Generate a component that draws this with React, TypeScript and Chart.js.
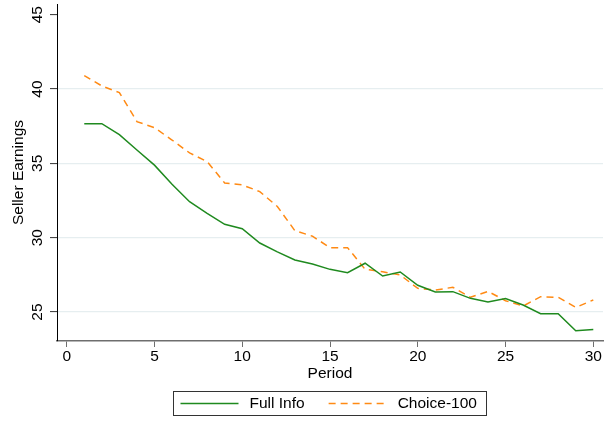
import React, { useEffect, useRef } from "react";
import { Chart, registerables } from "chart.js";

Chart.register(...registerables);

// ---- data ----
const periods = [1, 2, 3, 4, 5, 6, 7, 8, 9, 10, 11, 12, 13, 14, 15, 16, 17, 18, 19, 20, 21, 22, 23, 24, 25, 26, 27, 28, 29, 30];
const fullInfo = [37.67, 37.67, 36.93, 35.9, 34.88, 33.6, 32.42, 31.64, 30.9, 30.6, 29.64, 29.05, 28.5, 28.23, 27.87, 27.65, 28.28, 27.42, 27.69, 26.8, 26.35, 26.37, 25.92, 25.67, 25.9, 25.47, 24.89, 24.89, 23.74, 23.83];
const choice100 = [40.9, 40.21, 39.76, 37.81, 37.4, 36.57, 35.7, 35.12, 33.68, 33.55, 33.1, 32.1, 30.47, 30.1, 29.33, 29.33, 27.87, 27.71, 27.49, 26.59, 26.48, 26.66, 25.99, 26.39, 25.76, 25.4, 26.03, 25.99, 25.31, 25.81];
const seriesLabels = ["Full Info", "Choice-100"];
const xTicks = [0, 5, 10, 15, 20, 25, 30];
const yTicks = [25, 30, 35, 40, 45];
const xTitle = "Period";
const yTitle = "Seller Earnings";

const FONT_FAMILY = "'Liberation Sans', Arial, Helvetica, sans-serif";
const FONT_SIZE = 15.5;
const GREEN = "#1f8a1f";
const ORANGE = "#ff8a14";

const boxLegend = {
  id: "boxLegend",
  afterDraw(chart: any) {
    const ctx = chart.ctx as CanvasRenderingContext2D;
    const ds = chart.data.datasets;
    ctx.save();
    ctx.font = `${FONT_SIZE}px ${FONT_FAMILY}`;
    const lineLen = 58, gapText = 11, itemGap = 24, padL = 7, padR = 10;
    const widths = ds.map((d: any) => ctx.measureText(d.label).width);
    let total = padL + padR;
    widths.forEach((w: number, i: number) => {
      total += lineLen + gapText + w + (i < widths.length - 1 ? itemGap : 0);
    });
    const ca = chart.chartArea;
    const cx = (ca.left + ca.right) / 2;
    const left = Math.round(cx - total / 2) + 0.5;
    const top = 391.5;
    const height = 24;
    const midY = top + height / 2;
    ctx.strokeStyle = "#333";
    ctx.lineWidth = 1;
    ctx.strokeRect(left, top, Math.round(total), height);
    let x = left + padL;
    ds.forEach((d: any, i: number) => {
      ctx.beginPath();
      ctx.strokeStyle = d.borderColor;
      ctx.lineWidth = d.borderWidth;
      ctx.setLineDash(d.borderDash || []);
      ctx.moveTo(x, midY);
      ctx.lineTo(x + lineLen, midY);
      ctx.stroke();
      ctx.setLineDash([]);
      x += lineLen + gapText;
      ctx.fillStyle = "#000";
      ctx.textBaseline = "middle";
      ctx.textAlign = "left";
      ctx.fillText(d.label, x, midY);
      x += widths[i] + itemGap;
    });
    ctx.restore();
  },
};

export default function App() {
  const canvasRef = useRef<HTMLCanvasElement | null>(null);

  useEffect(() => {
    if (!canvasRef.current) return;
    const font = { family: FONT_FAMILY, size: FONT_SIZE };
    const chart = new Chart(canvasRef.current, {
      type: "line",
      data: {
        datasets: [
          {
            label: seriesLabels[0],
            data: periods.map((p, i) => ({ x: p, y: fullInfo[i] })),
            borderColor: GREEN,
            backgroundColor: GREEN,
            borderWidth: 1.5,
            pointRadius: 0,
            tension: 0,
            fill: false,
          },
          {
            label: seriesLabels[1],
            data: periods.map((p, i) => ({ x: p, y: choice100[i] })),
            borderColor: ORANGE,
            backgroundColor: ORANGE,
            borderWidth: 1.5,
            borderDash: [7, 5],
            pointRadius: 0,
            tension: 0,
            fill: false,
          },
        ],
      },
      options: {
        animation: false,
        responsive: false,
        devicePixelRatio: 1,
        layout: { padding: { left: 0, right: 6, top: 4, bottom: 0 } },
        plugins: {
          legend: { display: false },
          tooltip: { enabled: false },
        },
        scales: {
          x: {
            type: "linear",
            min: -0.553,
            max: 30.553,
            afterBuildTicks: (s: any) => {
              s.ticks = xTicks.map((v) => ({ value: v }));
            },
            afterFit: (s: any) => {
              s.height = 83;
              s.paddingLeft = 0;
              s.paddingRight = 0;
            },
            grid: {
              drawOnChartArea: false,
              drawTicks: true,
              tickLength: 6,
              tickColor: "#6e6e6e",
              tickWidth: 1,
            },
            border: { color: "#6e6e6e", width: 1.5 },
            ticks: {
              font,
              color: "#000",
              padding: 0,
              maxRotation: 0,
              autoSkip: false,
            },
            title: {
              display: true,
              text: xTitle,
              font,
              color: "#000",
              padding: { top: 0, bottom: 41.2 },
            },
          },
          y: {
            type: "linear",
            min: 23.05,
            max: 45.72,
            afterBuildTicks: (s: any) => {
              s.ticks = yTicks.map((v) => ({ value: v }));
            },
            afterFit: (s: any) => {
              s.width = 57;
              s.paddingTop = 0;
              s.paddingBottom = 0;
            },
            grid: {
              color: (c: any) => (c.tick && c.tick.value === 45 ? "rgba(0,0,0,0)" : "#e6eef0"),
              lineWidth: 1.2,
              drawTicks: true,
              tickLength: 7,
              tickColor: "#333",
              tickWidth: 1,
            },
            border: { color: "#000", width: 1 },
            ticks: {
              font,
              color: "#000",
              padding: 3.5,
              minRotation: 90,
              maxRotation: 90,
              crossAlign: "center",
              autoSkip: false,
            },
            title: {
              display: true,
              text: yTitle,
              font,
              color: "#000",
              padding: { top: 9.9, bottom: 0 },
            },
          },
        },
      },
      plugins: [boxLegend],
    } as any);
    return () => chart.destroy();
  }, []);

  return (
    <div style={{ position: "fixed", left: 0, top: 0, width: 609, height: 424, background: "#fff" }}>
      <canvas ref={canvasRef} width={609} height={424} style={{ display: "block" }} />
    </div>
  );
}
